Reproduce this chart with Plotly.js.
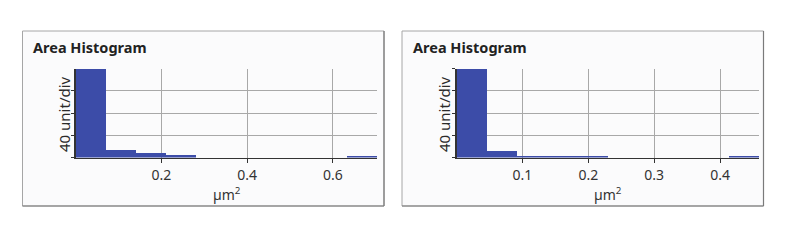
<!DOCTYPE html>
<html>
<head>
<meta charset="utf-8">
<script src="https://cdn.plot.ly/plotly-3.0.1.min.js"></script>
<style>html,body{margin:0;padding:0;background:#fff;}#chart{width:796px;height:243px;}</style>
</head>
<body>
<div id="chart"></div>
<script>
// ---- data ----
var panelTitle = "Area Histogram";
var yTitle = "40 unit/div";
var xTitle = "µm<sup>2</sup>";

var leftBinStart = 0;
var leftBinWidth = 0.0703;
var leftCounts = [160, 13, 8, 4, 0, 0, 0, 0, 0, 3];
var leftTicks = [0.2, 0.4, 0.6];
var leftTickLabels = ["0.2", "0.4", "0.6"];

var rightBinStart = 0;
var rightBinWidth = 0.0459;
var rightCounts = [160, 12.5, 3, 2, 2, 0, 0, 0, 0, 3];
var rightTicks = [0.1, 0.2, 0.3, 0.4];
var rightTickLabels = ["0.1", "0.2", "0.3", "0.4"];

var yTicks = [0, 40, 80, 120, 160];

// ---- helpers ----
function centers(start, w, counts) {
  return counts.map(function (_, i) { return start + w * (i + 0.5); });
}
var W = 796, H = 243;
function px(x) { return x / W; }
function py(y) { return 1 - y / H; }

var barColor = "#3c4ca8";
var FONT = "Noto Sans, DejaVu Sans, sans-serif";

var traces = [
  {
    type: "bar", xaxis: "x", yaxis: "y",
    x: centers(leftBinStart, leftBinWidth, leftCounts),
    y: leftCounts,
    width: leftCounts.map(function () { return leftBinWidth; }),
    marker: { color: barColor, line: { width: 0 } },
    hoverinfo: "skip"
  },
  {
    type: "bar", xaxis: "x2", yaxis: "y2",
    x: centers(rightBinStart, rightBinWidth, rightCounts),
    y: rightCounts,
    width: rightCounts.map(function () { return rightBinWidth; }),
    marker: { color: barColor, line: { width: 0 } },
    hoverinfo: "skip"
  }
];

function xAxis(domain, range, ticks, labels, anchor) {
  return {
    domain: domain, range: range, anchor: anchor,
    tickmode: "array", tickvals: ticks, ticktext: labels,
    ticks: "outside", ticklen: 4, tickwidth: 1, tickcolor: "#333",
    showgrid: true, gridcolor: "#a8a8a8", gridwidth: 1,
    showline: true, linecolor: "#333", linewidth: 1.5,
    zeroline: false, fixedrange: true,
    tickfont: { family: FONT, size: 14, color: "#333" }
  };
}
function yAxis(domain, anchor, ticks) {
  return {
    domain: domain, range: [0, 160], anchor: anchor,
    tickmode: "array", tickvals: ticks,
    showticklabels: false,
    ticks: "outside", ticklen: 3, tickwidth: 1, tickcolor: "#333",
    showgrid: true, gridcolor: "#a8a8a8", gridwidth: 1,
    showline: true, linecolor: "#333", linewidth: 1.5,
    zeroline: false, fixedrange: true
  };
}

var yDom = [py(157.5), py(68.5)];

var layout = {
  width: W, height: H,
  margin: { l: 0, r: 0, t: 0, b: 0 },
  paper_bgcolor: "#ffffff",
  plot_bgcolor: "#ffffff",
  showlegend: false,
  bargap: 0,
  xaxis: xAxis([px(75.5), px(377)], [0, 0.703], leftTicks, leftTickLabels, "y"),
  yaxis: yAxis(yDom, "x", [0, 40, 80, 120]),
  xaxis2: xAxis([px(456.5), px(759)], [0, 0.459], rightTicks, rightTickLabels, "y2"),
  yaxis2: yAxis(yDom, "x2", yTicks),
  shapes: [
    { type: "rect", xref: "paper", yref: "paper", layer: "below",
      x0: px(22.5), x1: px(384), y0: py(206), y1: py(31),
      fillcolor: "#fbfbfc", line: { color: "#a6a6a6", width: 1 } },
    { type: "line", xref: "paper", yref: "paper", layer: "below",
      x0: px(384), x1: px(384), y0: py(206), y1: py(31), line: { color: "#7a7a7a", width: 1.2 } },
    { type: "line", xref: "paper", yref: "paper", layer: "below",
      x0: px(22.5), x1: px(384), y0: py(206), y1: py(206), line: { color: "#7a7a7a", width: 1.2 } },
    { type: "rect", xref: "paper", yref: "paper", layer: "below",
      x0: px(402), x1: px(763.5), y0: py(206), y1: py(31),
      fillcolor: "#fbfbfc", line: { color: "#a6a6a6", width: 1 } },
    { type: "line", xref: "paper", yref: "paper", layer: "below",
      x0: px(763.5), x1: px(763.5), y0: py(206), y1: py(31), line: { color: "#7a7a7a", width: 1.2 } },
    { type: "line", xref: "paper", yref: "paper", layer: "below",
      x0: px(402), x1: px(763.5), y0: py(206), y1: py(206), line: { color: "#7a7a7a", width: 1.2 } }
  ],
  annotations: [
    { xref: "paper", yref: "paper", x: px(31), y: py(47), xanchor: "left", yanchor: "middle",
      text: panelTitle, showarrow: false,
      font: { family: FONT, size: 14.5, color: "#222", weight: "bold" } },
    { xref: "paper", yref: "paper", x: px(411), y: py(47), xanchor: "left", yanchor: "middle",
      text: panelTitle, showarrow: false,
      font: { family: FONT, size: 14.5, color: "#222", weight: "bold" } },
    { xref: "paper", yref: "paper", x: px(64), y: py(114), xanchor: "center", yanchor: "middle",
      text: yTitle, textangle: -90, showarrow: false,
      font: { family: FONT, size: 15, color: "#2a2a2a" } },
    { xref: "paper", yref: "paper", x: px(444), y: py(114), xanchor: "center", yanchor: "middle",
      text: yTitle, textangle: -90, showarrow: false,
      font: { family: FONT, size: 15, color: "#2a2a2a" } },
    { xref: "paper", yref: "paper", x: px(226.5), y: py(194), xanchor: "center", yanchor: "middle",
      text: xTitle, showarrow: false,
      font: { family: FONT, size: 14, color: "#333" } },
    { xref: "paper", yref: "paper", x: px(607.5), y: py(194), xanchor: "center", yanchor: "middle",
      text: xTitle, showarrow: false,
      font: { family: FONT, size: 14, color: "#333" } }
  ]
};

Plotly.newPlot("chart", traces, layout, { staticPlot: true, displayModeBar: false });
</script>
</body>
</html>
